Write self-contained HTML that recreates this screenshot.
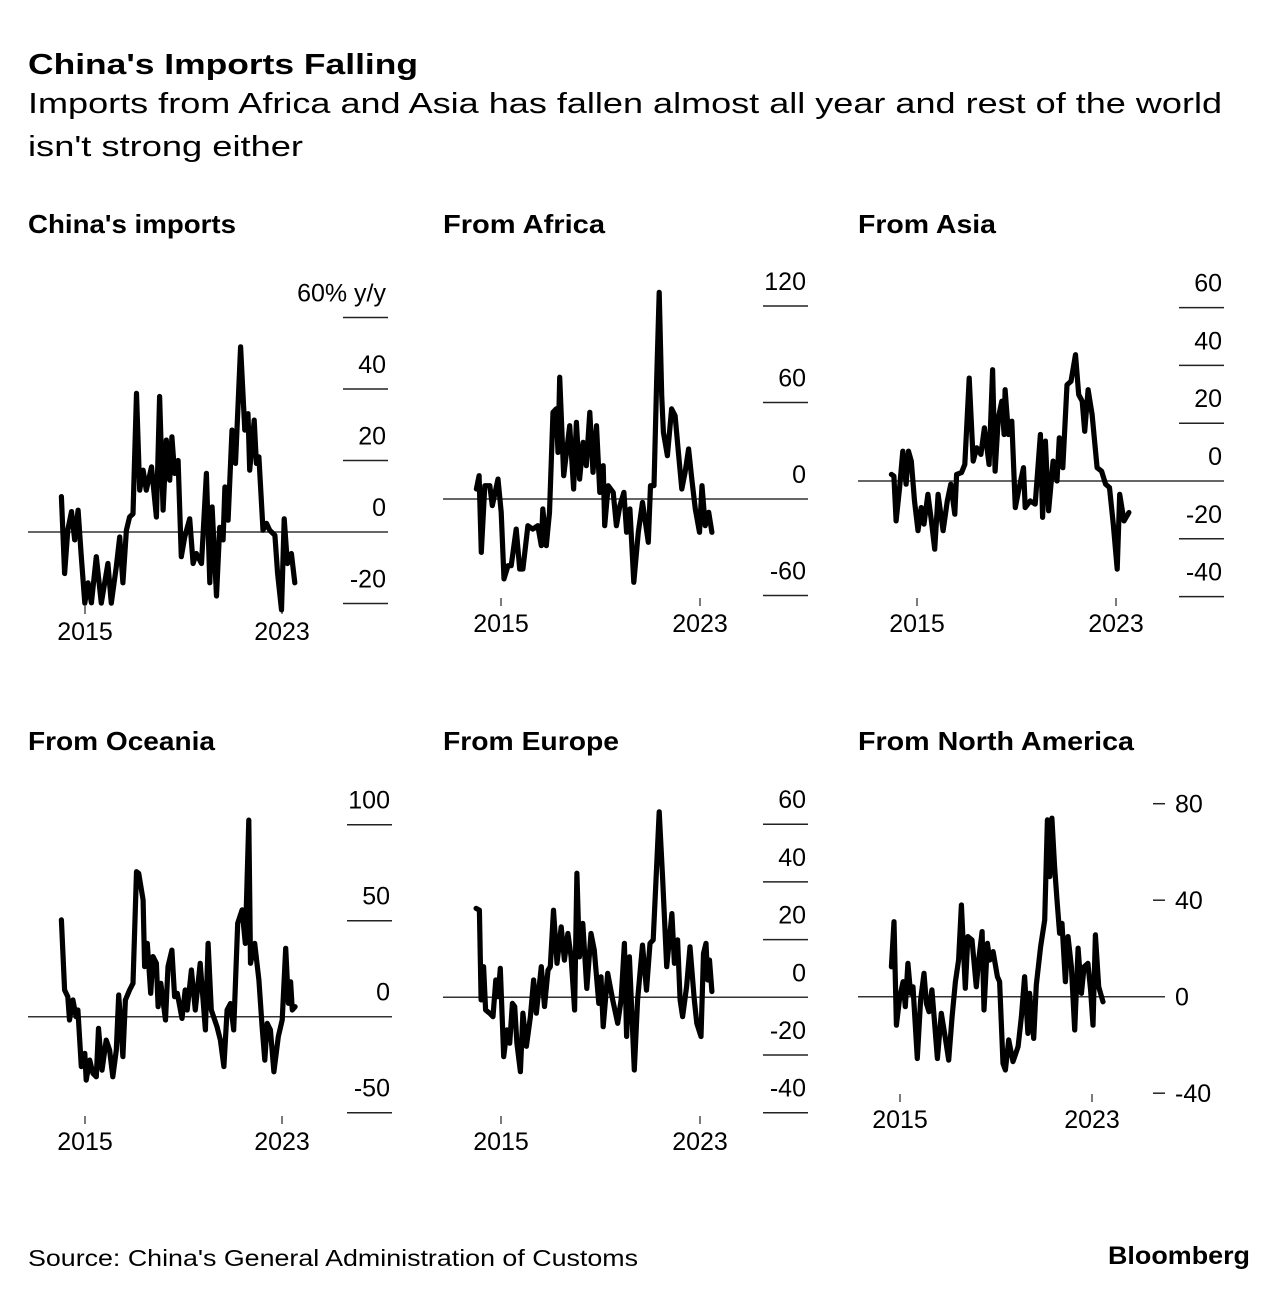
<!DOCTYPE html>
<html><head><meta charset="utf-8"><style>
html,body{margin:0;padding:0;background:#fff;}
svg{display:block;font-family:"Liberation Sans",sans-serif;}
</style></head><body>
<svg id="root" width="1288" height="1300" viewBox="0 0 1288 1300" xmlns="http://www.w3.org/2000/svg">
<rect width="1288" height="1300" fill="#fff"/>
<text x="28" y="74" font-size="29" font-weight="bold" textLength="390" lengthAdjust="spacingAndGlyphs">China's Imports Falling</text>
<text x="28" y="113" font-size="29" textLength="1194" lengthAdjust="spacingAndGlyphs">Imports from Africa and Asia has fallen almost all year and rest of the world</text>
<text x="28" y="156" font-size="29" textLength="275" lengthAdjust="spacingAndGlyphs">isn't strong either</text>
<text x="28" y="1266" font-size="23" textLength="610" lengthAdjust="spacingAndGlyphs">Source: China's General Administration of Customs</text>
<text x="1250" y="1264" font-size="25" font-weight="bold" text-anchor="end" textLength="142" lengthAdjust="spacingAndGlyphs">Bloomberg</text>
<g id="panels"></g>
</svg>
<script>
// ---- data (year, % y/y) ----
const years1=[2014.04,2014.17,2014.3,2014.45,2014.58,2014.72,2014.85,2014.99,2015.12,2015.26,2015.46,2015.66,2015.93,2016.07,2016.27,2016.41,2016.54,2016.68,2016.81,2016.95,2017.09,2017.22,2017.36,2017.49,2017.7,2017.9,2018.03,2018.17,2018.3,2018.44,2018.53,2018.64,2018.78,2018.91,2019.05,2019.25,2019.39,2019.52,2019.73,2019.93,2020.07,2020.16,2020.34,2020.47,2020.61,2020.68,2020.81,2020.97,2021.11,2021.32,2021.49,2021.62,2021.69,2021.87,2021.96,2022.06,2022.23,2022.37,2022.5,2022.71,2022.82,2022.98,2023.09,2023.22,2023.38,2023.52];
const imports=[9.9,-11.6,0.6,5.7,-2.2,6.1,-6.9,-19.9,-14.2,-19.8,-6.9,-19.9,-8.8,-19.9,-9.7,-1.4,-14.2,0.5,4.2,5.1,38.8,11.7,17.3,11.7,18.2,4.2,37.9,6.1,25.7,14.5,26.6,16.4,20.0,-6.9,-1.4,3.7,-8.8,-6.0,-8.8,16.4,-14.2,7.0,-17.9,1.3,-2.2,12.6,3.3,28.5,19.2,51.8,28.5,33.1,17.3,31.3,19.2,21.0,0.5,2.4,0.5,-0.9,-11.6,-21.8,3.7,-8.8,-6.0,-14.2];

const years2=[2014.01,2014.12,2014.21,2014.35,2014.55,2014.65,2014.88,2015.01,2015.12,2015.28,2015.41,2015.61,2015.75,2015.88,2016.08,2016.28,2016.48,2016.62,2016.68,2016.82,2016.95,2017.09,2017.22,2017.29,2017.36,2017.52,2017.76,2017.92,2018.03,2018.16,2018.3,2018.43,2018.57,2018.7,2018.84,2018.97,2019.11,2019.17,2019.31,2019.51,2019.64,2019.78,2019.94,2020.05,2020.18,2020.34,2020.52,2020.69,2020.92,2021.01,2021.15,2021.26,2021.36,2021.46,2021.53,2021.69,2021.86,2022.0,2022.13,2022.27,2022.4,2022.54,2022.67,2022.81,2022.98,2023.08,2023.21,2023.35,2023.48];
const africa=[6.2,14.5,-33.2,8.3,8.3,-4.1,12.4,-8.3,-49.7,-41.5,-41.5,-18.7,-43.5,-43.5,-16.6,-18.7,-16.6,-29.0,-6.2,-29.0,-8.3,53.9,56.0,29.0,75.7,14.5,45.6,6.2,47.7,12.4,35.2,20.7,53.9,16.6,45.6,4.1,20.7,-16.6,8.3,4.1,-16.6,-4.1,4.1,-20.7,-6.2,-51.8,-20.7,-2.1,-26.9,8.3,8.3,74.6,128.5,64.3,41.5,26.9,56.0,51.8,29.0,6.2,16.6,31.1,12.4,-6.2,-20.7,8.3,-16.6,-8.3,-20.7];

const years3=[2013.97,2014.07,2014.16,2014.3,2014.43,2014.56,2014.66,2014.77,2014.9,2015.04,2015.17,2015.28,2015.44,2015.58,2015.71,2015.85,2016.05,2016.22,2016.36,2016.52,2016.59,2016.79,2016.92,2017.1,2017.26,2017.4,2017.57,2017.71,2017.9,2018.04,2018.14,2018.27,2018.41,2018.5,2018.54,2018.68,2018.81,2018.95,2019.11,2019.28,2019.35,2019.55,2019.75,2019.96,2020.05,2020.16,2020.29,2020.47,2020.63,2020.72,2020.86,2021.03,2021.19,2021.37,2021.5,2021.64,2021.74,2021.88,2022.04,2022.24,2022.42,2022.58,2022.74,2022.89,2023.05,2023.15,2023.32,2023.52];
const asia=[2.3,1.7,-13.8,-2.3,10.3,-1.1,10.3,6.9,-6.9,-17.2,-9.2,-14.9,-4.6,-13.8,-23.6,-4.6,-17.2,-6.9,-1.1,-11.5,2.3,2.9,5.7,35.6,6.9,11.5,9.2,18.4,5.7,38.5,3.4,21.8,27.6,16.1,31.6,16.1,20.7,-9.2,-2.3,4.6,-9.2,-6.9,-8.0,16.1,-12.6,13.8,-10.3,6.9,0,14.9,4.6,33.3,34.5,43.7,29.9,27.6,17.2,31.6,23.0,4.6,3.4,-1.1,-2.3,-15.0,-30.5,-4.6,-13.8,-10.9];

const years4=[2014.04,2014.17,2014.3,2014.37,2014.51,2014.64,2014.71,2014.85,2014.99,2015.05,2015.19,2015.32,2015.46,2015.55,2015.69,2015.86,2016.0,2016.13,2016.27,2016.37,2016.54,2016.64,2016.81,2016.95,2017.09,2017.18,2017.36,2017.42,2017.53,2017.67,2017.76,2017.9,2017.97,2018.08,2018.27,2018.37,2018.53,2018.64,2018.75,2018.94,2019.07,2019.15,2019.32,2019.48,2019.68,2019.89,2020.0,2020.13,2020.36,2020.5,2020.64,2020.77,2020.91,2021.04,2021.2,2021.38,2021.51,2021.65,2021.72,2021.89,2022.06,2022.19,2022.3,2022.4,2022.53,2022.67,2022.85,2023.01,2023.15,2023.26,2023.35,2023.42,2023.53];
const oceania=[50.4,13.9,10.4,-1.7,8.7,0,3.5,-26.0,-19.1,-33.0,-22.6,-29.5,-31.3,-6.1,-27.8,-12.2,-17.4,-31.3,-17.4,11.3,-20.8,8.7,13.9,17.4,75.5,74.7,60.8,26.1,38.2,12.2,31.3,27.8,5.2,17.4,-1.7,26.1,34.7,10.4,12.2,-0.9,13.9,3.5,24.3,3.5,27.8,-6.9,38.2,3.5,-5.2,-12.2,-26.0,3.5,6.9,-6.9,48.7,55.6,38.2,102.4,27.8,38.2,19.1,-5.2,-22.6,-3.5,-6.9,-28.7,-10.4,-1.7,35.6,7.0,18.2,3.5,5.2];

const years5=[2014.0,2014.13,2014.2,2014.3,2014.38,2014.54,2014.68,2014.79,2014.88,2014.97,2015.11,2015.24,2015.35,2015.46,2015.55,2015.64,2015.78,2015.88,2016.02,2016.18,2016.31,2016.42,2016.62,2016.75,2016.89,2016.98,2017.11,2017.25,2017.42,2017.55,2017.69,2017.82,2017.96,2018.05,2018.15,2018.29,2018.45,2018.62,2018.75,2018.93,2019.02,2019.11,2019.29,2019.49,2019.69,2019.83,2019.96,2020.05,2020.16,2020.36,2020.49,2020.69,2020.85,2020.99,2021.12,2021.36,2021.5,2021.66,2021.87,2021.97,2022.1,2022.2,2022.3,2022.46,2022.6,2022.77,2022.87,2023.04,2023.14,2023.24,2023.31,2023.38,2023.48];
const europe=[30.8,30.2,-0.9,10.6,-4.4,-5.5,-6.7,6.0,0.2,10.0,-20.6,-11.3,-15.9,-2.1,-3.2,-15.9,-25.8,-5.5,-17.0,-6.7,6.0,-5.5,10.6,-3.2,9.4,10.6,30.2,11.8,24.4,12.9,22.1,14.0,-4.4,43.0,14.0,25.6,3.1,22.1,16.3,-2.1,7.1,-10.2,8.3,-0.9,-9.0,-0.9,18.7,-13.6,14.0,-25.2,-0.9,18.1,2.5,18.7,19.9,64.3,40.7,10.6,29.0,11.8,19.9,-0.9,-6.7,3.7,17.5,-0.9,-9.0,-13.6,15.2,18.7,6.0,12.9,2.0];

const years6=[2014.64,2014.75,2014.85,2014.99,2015.13,2015.22,2015.33,2015.44,2015.54,2015.72,2015.86,2016.0,2016.1,2016.21,2016.33,2016.42,2016.56,2016.72,2016.89,2017.03,2017.17,2017.31,2017.44,2017.56,2017.72,2017.83,2018.0,2018.18,2018.28,2018.42,2018.5,2018.64,2018.74,2018.88,2019.06,2019.15,2019.29,2019.39,2019.53,2019.71,2019.92,2020.06,2020.19,2020.33,2020.4,2020.57,2020.68,2020.86,2021.03,2021.14,2021.24,2021.33,2021.44,2021.54,2021.65,2021.75,2021.89,2022.0,2022.14,2022.28,2022.42,2022.56,2022.67,2022.83,2022.94,2023.04,2023.14,2023.28,2023.46];
const namerica=[12.4,31.1,-11.8,0,6.2,-4.1,13.8,1.4,4.1,-25.6,-1.4,9.7,-2.8,-6.2,2.8,-8.3,-25.6,-6.9,-17.3,-26.3,-8.3,6.2,15.2,38.0,3.5,24.9,23.5,4.1,15.2,27.0,-5.5,22.1,15.2,18.7,8.3,6.2,-27.7,-30.4,-17.9,-26.9,-20.7,-8.3,8.3,-15.2,1.4,-17.3,4.8,20.7,31.8,73.3,49.8,74.0,53.9,40.1,26.3,30.4,6.2,24.9,12.4,-13.8,20.1,1.4,12.4,13.8,2.8,-11.8,25.6,4.1,-2.1];

// ---- tick arrays ----
const ticks1=[60,40,20,0,-20]; const tickLabels1=["60% y/y","40","20","0","-20"];
const ticks2=[120,60,0,-60]; const tickLabels2=["120","60","0","-60"];
const ticks3=[60,40,20,0,-20,-40]; const tickLabels3=["60","40","20","0","-20","-40"];
const ticks4=[100,50,0,-50]; const tickLabels4=["100","50","0","-50"];
const ticks5=[60,40,20,0,-20,-40]; const tickLabels5=["60","40","20","0","-20","-40"];
const ticks6=[80,40,0,-40]; const tickLabels6=["80","40","0","-40"];
const xTickYears=[2015,2023]; const xTickLabels=["2015","2023"];

// ---- layout (pixels) ----
const panels=[
 {name:"china-imports",title:"China's imports",tw:208,tx:28,ty:233,left:28,right:388,x2015:85,x2023:282,zeroY:532,refV:20,refPx:71.5,xLabY:640,style:"stub",years:years1,vals:imports,ticks:ticks1,labels:tickLabels1},
 {name:"from-africa",title:"From Africa",tw:162,tx:443,ty:233,left:443,right:808,x2015:501,x2023:700,zeroY:499,refV:60,refPx:96.5,xLabY:632,style:"stub",years:years2,vals:africa,ticks:ticks2,labels:tickLabels2},
 {name:"from-asia",title:"From Asia",tw:138,tx:858,ty:233,left:858,right:1224,x2015:917,x2023:1116,zeroY:481,refV:20,refPx:57.8,xLabY:632,style:"stub",years:years3,vals:asia,ticks:ticks3,labels:tickLabels3},
 {name:"from-oceania",title:"From Oceania",tw:187,tx:28,ty:750,left:28,right:392,x2015:85,x2023:282,zeroY:1016.7,refV:50,refPx:96,xLabY:1150,style:"stub",years:years4,vals:oceania,ticks:ticks4,labels:tickLabels4},
 {name:"from-europe",title:"From Europe",tw:176,tx:443,ty:750,left:443,right:808,x2015:501,x2023:700,zeroY:997.3,refV:20,refPx:57.7,xLabY:1150,style:"stub",years:years5,vals:europe,ticks:ticks5,labels:tickLabels5},
 {name:"from-north-america",title:"From North America",tw:276,tx:858,ty:750,left:858,right:1165,x2015:900,x2023:1092,zeroY:996.7,refV:40,refPx:96.5,xLabY:1128,style:"dash",years:years6,vals:namerica,ticks:ticks6,labels:tickLabels6}
];

const NS="http://www.w3.org/2000/svg";
const root=document.getElementById('panels');
function mk(tag,attrs,parent){const e=document.createElementNS(NS,tag);for(const k in attrs)e.setAttribute(k,attrs[k]);parent.appendChild(e);return e;}

panels.forEach(p=>{
  const g=mk('g',{},root);
  
  
  const xs=yr=>p.x2015+(yr-2015)*(p.x2023-p.x2015)/8;
  const ys=v=>p.zeroY-v*p.refPx/p.refV;
  const t=mk('text',{x:p.tx,y:p.ty,'font-size':26,'font-weight':'bold',textLength:p.tw,lengthAdjust:'spacingAndGlyphs'},g);
  t.textContent=p.title;
  
  
  p.ticks.forEach((v,i)=>{
    const y=ys(v);
    if(p.style==="stub"){
      if(v!==0){
        const l=mk('line',{x1:p.right-45,x2:p.right,y1:y,y2:y,stroke:'#222','stroke-width':1.5},g);
        
        
      }
      const tx=mk('text',{x:p.right-2,y:y-16,'font-size':25,'text-anchor':'end'},g);
      tx.textContent=p.labels[i];
      
      
    } else {
      if(v!==0){
        const l=mk('line',{x1:p.right-12,x2:p.right,y1:y,y2:y,stroke:'#222','stroke-width':1.5},g);
        
        
      }
      const tx=mk('text',{x:p.right+10,y:y+9,'font-size':25},g);
      tx.textContent=p.labels[i];
      
      
    }
  });
  const z=mk('line',{x1:p.left,x2:p.right,y1:p.zeroY,y2:p.zeroY,stroke:'#333','stroke-width':1.5},g);
  
  
  xTickYears.forEach((yr,i)=>{
    const x=xs(yr);
    const tk=mk('line',{x1:x,x2:x,y1:p.xLabY-34,y2:p.xLabY-26,stroke:'#222','stroke-width':1.2},g);
    
    
    const tx=mk('text',{x:x,y:p.xLabY,'font-size':25,'text-anchor':'middle'},g);
    tx.textContent=xTickLabels[i];
    
    
  });
  const d=p.years.map((yr,i)=>(i?'L':'M')+xs(yr).toFixed(1)+','+ys(p.vals[i]).toFixed(1)).join('');
  const path=mk('path',{d:d,fill:'none',stroke:'#000','stroke-width':5.2,'stroke-linejoin':'round','stroke-linecap':'round'},g);
  
  
});
</script>
</body></html>
